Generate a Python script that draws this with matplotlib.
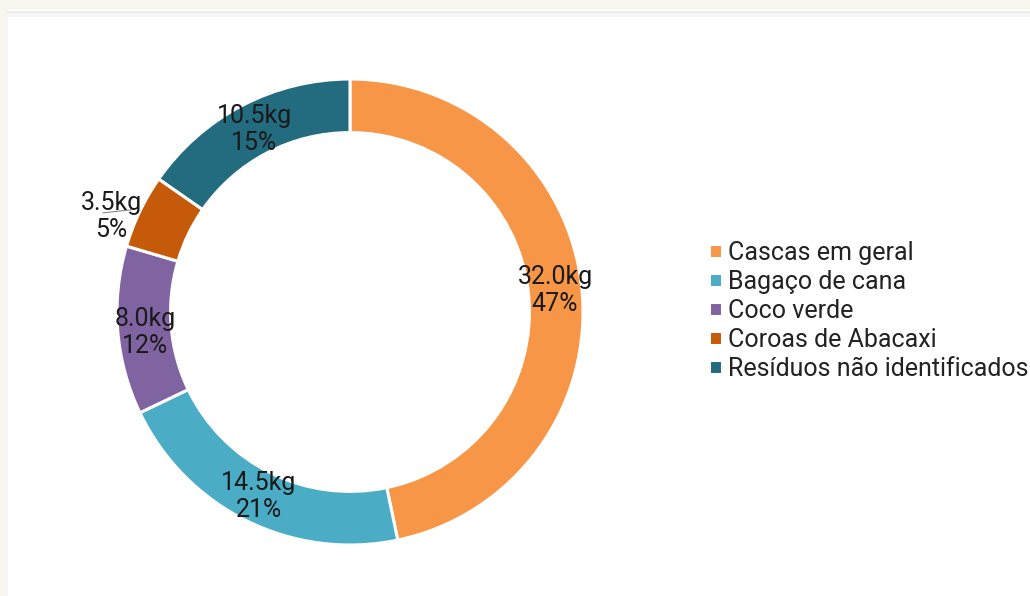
import matplotlib
matplotlib.use("Agg")
import matplotlib.pyplot as plt
from matplotlib.patches import Rectangle
import numpy as np

plt.rcParams['font.family'] = ['Roboto', 'DejaVu Sans']

categories = ["Cascas em geral", "Bagaço de cana", "Coco verde",
              "Coroas de Abacaxi", "Resíduos não identificados"]
weights_kg = [32.0, 14.5, 8.0, 3.5, 10.5]
colors = ["#F79646", "#4BACC6", "#8064A2", "#C45A0A", "#236C80"]

W, H = 1030, 596
fig = plt.figure(figsize=(W / 100, H / 100), dpi=100, facecolor="#f7f7ef")
ax = fig.add_axes([0, 0, 1, 1])

# white card with a faint top shadow
ax.add_patch(Rectangle((8, 0), W - 8, H - 10, facecolor="white", edgecolor="none", zorder=0))
ax.plot([8, W], [H - 12, H - 12], color="#ebebeb", lw=2, zorder=1)
ax.plot([8, W], [H - 15, H - 15], color="#f6f6f6", lw=3, zorder=1)

cx, cy, R = 350, H - 312, 233
ring = 0.23
wedges, _ = ax.pie(weights_kg, colors=colors, startangle=90, counterclock=False,
                   center=(cx, cy), radius=R, frame=True,
                   wedgeprops=dict(width=R * ring, edgecolor="white", linewidth=2.2))
ax.set_xlim(0, W)
ax.set_ylim(0, H)
ax.set_aspect("equal")
ax.axis("off")

total = sum(weights_kg)
# per-label nudges (dx, dy in pixels) for the small wedges on the left
adjust = {2: (1, -4), 3: (-53, 6)}
for i, (w, v) in enumerate(zip(wedges, weights_kg)):
    mid = np.deg2rad((w.theta1 + w.theta2) / 2)
    r = R * (1 - ring / 2)
    dx, dy = adjust.get(i, (0, 0))
    x = cx + r * np.cos(mid) + dx
    y = cy + r * np.sin(mid) + dy
    ax.text(x, y, f"{v:.1f}kg\n{v / total * 100:.0f}%", ha="center", va="center",
            fontsize=18, color="#1a1a1a", linespacing=1.15, zorder=5)
    if i == 3:
        ax.plot([x - 8, x + 20], [y + 4, y + 7], color="#8a8a8a", lw=0.8, zorder=4)

leg = ax.legend(wedges, categories, loc="center left", bbox_to_anchor=(709, H - 311),
                bbox_transform=ax.transData, frameon=False, fontsize=18,
                handlelength=0.5, handleheight=0.5, handletextpad=0.25,
                labelspacing=0.2, borderpad=0, borderaxespad=0)
for t in leg.get_texts():
    t.set_color("#222222")

fig.savefig("out.png", dpi=100, facecolor=fig.get_facecolor())
